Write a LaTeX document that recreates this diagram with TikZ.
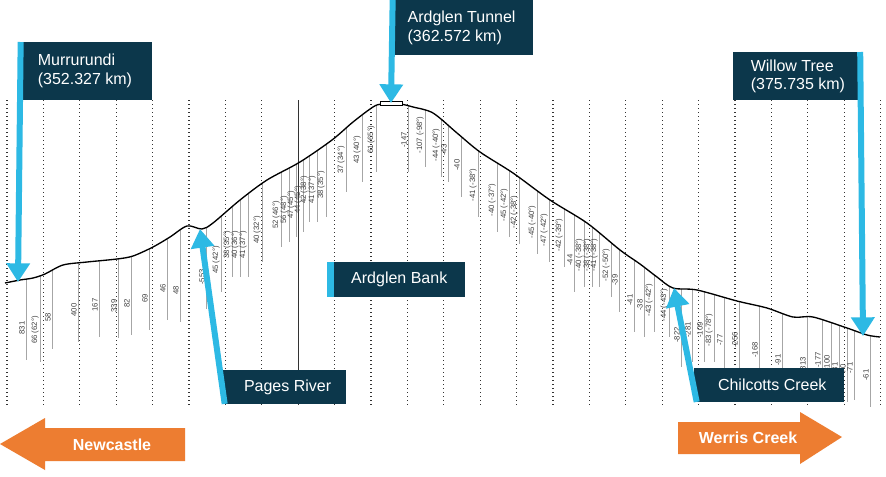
\documentclass[tikz,border=0pt]{standalone}
\usepackage{fontspec}
\setmainfont{Liberation Sans}
\usetikzlibrary{arrows.meta}
\definecolor{boxc}{RGB}{12,55,75}
\definecolor{arrc}{RGB}{45,185,228}
\definecolor{orng}{RGB}{237,125,49}
\begin{document}
\begin{tikzpicture}[x=0.75pt,y=-0.75pt,
  callout/.style={fill=boxc,text=white,font=\fontsize{12}{14}\selectfont,inner sep=5pt,anchor=north west,align=left},
  bluearrow/.style={draw=arrc,line width=4.5pt,-{Triangle[length=14pt,width=17pt]}},
  grade/.style={rotate=90,anchor=south,font=\fontsize{5.8}{6.5}\selectfont,text=black!75,inner sep=0.8pt},
  oarrow/.style={fill=orng,draw=none}]
\useasboundingbox (0,0) rectangle (886,476);
\fill[white] (0,0) rectangle (886,476);
% vertical grid
\foreach \k in {0,...,24} {
  \draw[dotted,line width=1pt,black!80] ({7+36.4*\k},100) -- ({7+36.4*\k},405);
}
\draw[black!80,line width=0.7pt] (298,100) -- (298,405);
% grade lines under curve
\begin{scope}
\clip plot[smooth] coordinates{(5,283)(20,280)(33,278)(45,274)(63,265)(87,262)(117,259)(133,256)(153,247)(170,237)(187,226)(202,229)(213,223)(240,200)(267,180)(300,162)(332,140)(353,122)(373,107)(382,104)(400,104)(413,107)(433,113)(457,133)(480,152)(513,173)(550,200)(587,223)(620,250)(640,264)(657,277)(673,288)(697,290)(737,301)(767,308)(793,317)(813,317)(847,328)(867,335)(880,337)} -- (880,476) -- (5,476) -- cycle;
\foreach \x/\y in {26/328,40/330,52/317,78/310,99/305,118/306,131/303,149/298,167/288,180/290,206/277,221/260,232/245,240/245,248/245,262/230,281/215,289/210,296/205,303/200,309/190,317/190,326/185,346/160,362/150,376/140,408/140,425/135,441/145,448/150,461/165,478/185,497/200,509/205,519/212,537/222,549/230,564/235,574/260,584/255,592/255,599/255,611/265,619/280,634/300,644/305,654/300,669/305,681/335,692/330,704/330,714/330,724/340,739/340,759/350,782/360,807/365,822/360,831/363,839/368,847/370,854/368,870/375}
  \draw[black!35,line width=0.6pt] (\x,90) -- (\x,{\y+32});
\end{scope}
\foreach \x/\y/\t in {26/328/{831},40/330/{66 (62°)},52/317/{58},78/310/{400},99/305/{167},118/306/{339},131/303/{82},149/298/{69},167/288/{46},180/290/{48},206/277/{-553},221/260/{45 (42°)},232/245/{38 (35°)},240/245/{40 (36°)},248/245/{41 (37°)},262/230/{40 (32°)},281/215/{52 (46°)},289/210/{56 (48°)},296/205/{47 (45°)},303/200/{44 (45°)},309/190/{42 (38°)},317/190/{41 (37°)},326/185/{38 (35°)},346/160/{37 (34°)},362/150/{43 (40°)},376/140/{61 (65°)},408/140/{-147},425/135/{-107 (-98°)},441/145/{-44 (-40°)},448/150/{-43},461/165/{-40},478/185/{-41 (-38°)},497/200/{-40 (-37°)},509/205/{-45 (-42°)},519/212/{-42 (-38°)},537/222/{-45 (-40°)},549/230/{-47 (-42°)},564/235/{-42 (-39°)},574/260/{-44},584/255/{-40 (-38°)},592/255/{-38 (-38°)},599/255/{-41 (-38°)},611/265/{-52 (-50°)},619/280/{-39},634/300/{-41},644/305/{-38},654/300/{-43 (-42°)},669/305/{-44 (-43°)},681/335/{-822},692/330/{-281},704/330/{-109},714/330/{-83 (-78°)},724/340/{-77},739/340/{-256},759/350/{-168},782/360/{-91},807/365/{-813},822/360/{-177},831/363/{-100},839/368/{-81},847/370/{-70},854/368/{-71},870/375/{-61}}
  \node[grade] at (\x,\y) {\t};
% profile
\draw[black,line width=1pt] plot[smooth] coordinates{(5,283)(20,280)(33,278)(45,274)(63,265)(87,262)(117,259)(133,256)(153,247)(170,237)(187,226)(202,229)(213,223)(240,200)(267,180)(300,162)(332,140)(353,122)(373,107)(382,104)(400,104)(413,107)(433,113)(457,133)(480,152)(513,173)(550,200)(587,223)(620,250)(640,264)(657,277)(673,288)(697,290)(737,301)(767,308)(793,317)(813,317)(847,328)(867,335)(880,337)};
\draw[black,fill=white,line width=0.5pt] (380,101) rectangle (402,105);
% callouts
\node[callout,minimum width=100pt,minimum height=43pt] (mur) at (18,42) {Murrurundi\\(352.327 km)};
\coordinate (murend) at (18,282);
\draw[bluearrow] (mur.north west) ++(2pt,0) -- (murend);
\node[callout,minimum width=107pt,minimum height=41pt] (ard) at (390,0) {Ardglen Tunnel\\(362.572 km)};
\coordinate (ardend) at (391,103);
\draw[bluearrow] (ard.north west) ++(2pt,0) -- (ardend);
\node[callout,minimum width=97pt,minimum height=36pt] (wil) at (733,52) {Willow Tree\\(375.735 km)};
\coordinate (wilend) at (863,336);
\draw[bluearrow] (wil.north east) ++(-2pt,0) -- (wilend);
\node[callout,minimum width=103pt,minimum height=26pt,inner sep=3pt,anchor=north west] (bank) at (327,262) {\hspace{5pt}Ardglen Bank};
\fill[arrc] (bank.north west) rectangle ([xshift=5pt]bank.south west);
\node[callout,minimum width=93pt,minimum height=25pt,inner sep=3pt] (pag) at (222,370) {\hspace{5pt}Pages River};
\coordinate (pagend) at (200,229);
\draw[bluearrow] (pag.south west) ++(2pt,0) -- (pagend);
\node[callout,minimum width=112pt,minimum height=25pt,inner sep=3pt] (chi) at (694,368) {\hspace{5pt}Chilcotts Creek};
\coordinate (chiend) at (674,288);
\draw[bluearrow] (chi.south west) ++(2pt,0) -- (chiend);
% orange arrows
\fill[orng] (0,444) -- (45,418) -- (45,428) -- (185,428) -- (185,461) -- (45,461) -- (45,470) -- cycle;
\node[text=white,font=\bfseries\fontsize{12}{13}\selectfont] (nc) at (112,445) {Newcastle};
\fill[orng] (842,437) -- (800,412) -- (800,422) -- (678,422) -- (678,454) -- (800,454) -- (800,464) -- cycle;
\node[text=white,font=\bfseries\fontsize{12}{13}\selectfont] (wc) at (748,438) {Werris Creek};
\end{tikzpicture}
\end{document}
